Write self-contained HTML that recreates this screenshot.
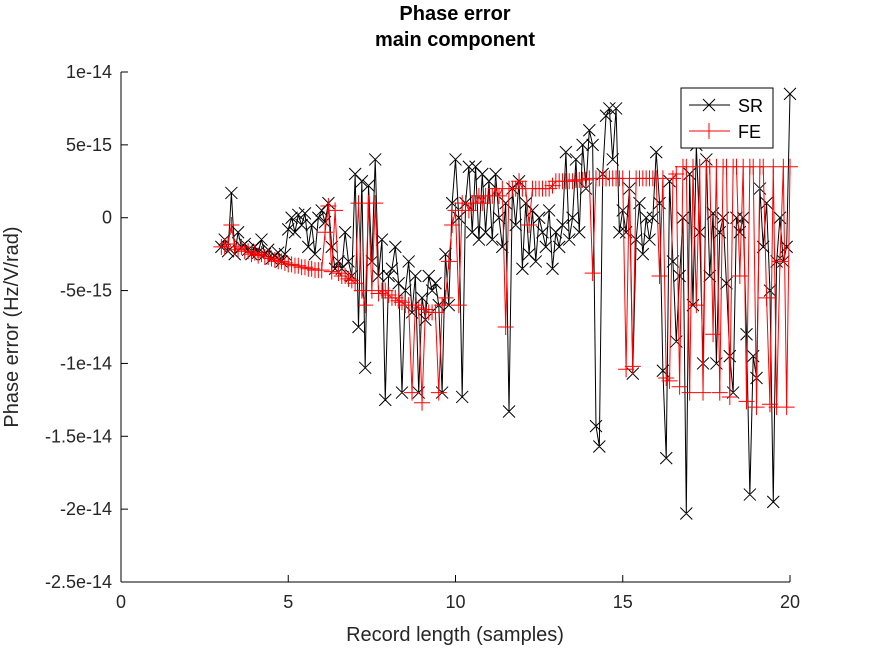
<!DOCTYPE html>
<html><head><meta charset="utf-8"><style>
body{margin:0;background:#fff}
svg{display:block;font-family:"Liberation Sans",sans-serif}
</style></head><body>
<svg id="c" width="872" height="654"></svg>
<script>
const xs=[3.0,3.1,3.2,3.3,3.4,3.5,3.6,3.7,3.8,3.9,4.0,4.1,4.2,4.3,4.4,4.5,4.6,4.7,4.8,4.9,5.0,5.1,5.2,5.3,5.4,5.5,5.6,5.7,5.8,5.9,6.0,6.1,6.2,6.3,6.4,6.5,6.6,6.7,6.8,6.9,7.0,7.1,7.2,7.3,7.4,7.5,7.6,7.7,7.8,7.9,8.0,8.1,8.2,8.3,8.4,8.5,8.6,8.7,8.8,8.9,9.0,9.1,9.2,9.3,9.4,9.5,9.6,9.7,9.8,9.9,10.0,10.1,10.2,10.3,10.4,10.5,10.6,10.7,10.8,10.9,11.0,11.1,11.2,11.3,11.4,11.5,11.6,11.7,11.8,11.9,12.0,12.1,12.2,12.3,12.4,12.5,12.6,12.7,12.8,12.9,13.0,13.1,13.2,13.3,13.4,13.5,13.6,13.7,13.8,13.9,14.0,14.1,14.2,14.3,14.4,14.5,14.6,14.7,14.8,14.9,15.0,15.1,15.2,15.3,15.4,15.5,15.6,15.7,15.8,15.9,16.0,16.1,16.2,16.3,16.4,16.5,16.6,16.7,16.8,16.9,17.0,17.1,17.2,17.3,17.4,17.5,17.6,17.7,17.8,17.9,18.0,18.1,18.2,18.3,18.4,18.5,18.6,18.7,18.8,18.9,19.0,19.1,19.2,19.3,19.4,19.5,19.6,19.7,19.8,19.9,20.0];
// values in units of 1e-15
const srValues=[-2,-1.5,-2.3,1.7,-2.5,-1,-2,-1.8,-2.2,-2.5,-2,-2.4,-1.5,-2.5,-2.2,-2.8,-2.6,-2.4,-3,-2.5,
-0.8,0,-1,0.2,-0.5,0.3,-2,-0.5,-2.5,0,0.5,-0.3,1,-2,-3.5,-3,-3.5,-1,-3,-4,
3,-7.5,2.5,-10.3,2.2,-3,4,-4,-1.5,-12.5,-4,-3.5,-2,-4.5,-12,-5,-3,-6.5,-4,-12,
-5.5,-7,-4,-5,-4.5,-6,-12,-2.5,-6,1,4,0,-12.3,1,3.5,-1,3.5,-1.5,3,-1,
2.5,-1.5,3,0,-2,1,-13.3,2,-0.5,2.5,-3.5,1,-2.5,0.5,-3,0,-1,-2,0.5,-3.5,
-1,-2,-0.5,4.5,-1.5,0,4,-1,5,2,6,5,-14.3,-15.7,3,7,7.5,4,7.5,-1,
0.5,-1,2,-10.7,-1.5,1,-2.5,0,-1.5,0,4.5,1,-10.5,-16.5,2.5,-3,-8.5,-4,0,-20.3,
3,-6,5,-1,-10,4,-4,0.3,-10,-1,0,-4.5,-9.5,-12,0,-1,0,-8,-19,-9.5,
-11,2,-2,1,-5,-19.5,-3,0,-3,-2,8.5];
const feValues=[-2,-2,-1.8,-0.5,-2,-2.2,-2,-2.3,-2.3,-2.5,-2.4,-2.6,-2.5,-2.7,-2.7,-2.8,-2.9,-3,-3,-3.1,
-3.2,-3.2,-3.3,-3.3,-3.4,-3.4,-3.5,-3.5,-3.6,-3.6,-3.6,-1,0.8,-3.7,0.5,-3.8,-4,-4,-4.2,-4.3,
-4.5,1,-5,-6,1,-5,1,-5.2,-5,-5,-5.3,-5.5,-5.5,-5.7,-5.8,-6,-6,-12,-6,-6.2,
-12.7,-6.3,-6.5,-6.5,-6.5,-12,-6,-5.5,-3,-0.5,0.5,-6,1,1,0.5,1,1,1.5,1,1.5,
1.5,1.5,2,1.5,2,-7.5,2,2,2,2.5,2,2,-0.5,2,2,2,2,2,2,2.2,
2.5,2.5,2.5,2.5,2.5,2.5,2.6,2.6,2.6,2.6,2.7,-3.8,2.7,2.7,2.7,2.7,2.7,2.7,2.7,2.7,
2.7,-10.4,2.7,-10.2,2.7,2.7,2.7,2.7,2.7,2.7,2.7,-4,2.7,-11,-11.2,2.7,3,-11.6,3.5,3.5,
-12,3.5,-6,3.5,-12,3.5,3.5,-8,3.5,-12,3.5,3.5,-12.3,3.5,3.5,-4,3.5,-12.6,3.5,3.5,
-13,3.5,3.5,-5.5,-12.8,3.5,-13,-3,3.5,-13,3.5];
const xTicks=[0,5,10,15,20];
const yTicks=[10,5,0,-5,-10,-15,-20,-25];
const yTickLabels=["1e-14","5e-15","0","-5e-15","-1e-14","-1.5e-14","-2e-14","-2.5e-14"];

const L=121,R=790,T=72,B=582;
const X=v=>L+(v-0)/(20-0)*(R-L);
const Y=v=>T+(10-v)/(10-(-25))*(B-T);
const svg=document.getElementById('c');
const NS='http://www.w3.org/2000/svg';
function mk(t,a,p){const e=document.createElementNS(NS,t);for(const k in a)e.setAttribute(k,a[k]);(p||svg).appendChild(e);return e;}

let t=mk('text',{x:455,y:20,'text-anchor':'middle','font-size':20,'font-weight':'bold',fill:'#000'});t.textContent='Phase error';


t=mk('text',{x:455,y:46,'text-anchor':'middle','font-size':20,'font-weight':'bold',fill:'#000'});t.textContent='main component';



const ax=mk('g',{});


mk('line',{x1:L,y1:T,x2:L,y2:B,stroke:'#000'},ax);
mk('line',{x1:L,y1:B,x2:R,y2:B,stroke:'#000'},ax);
xTicks.forEach(v=>{
  mk('line',{x1:X(v),y1:B,x2:X(v),y2:B-7,stroke:'#000'},ax);
  const e=mk('text',{x:X(v),y:B+26,'text-anchor':'middle','font-size':18,fill:'#262626'},ax);e.textContent=v;
  
  
});
yTicks.forEach((v,i)=>{
  mk('line',{x1:L,y1:Y(v),x2:L+7,y2:Y(v),stroke:'#000'},ax);
  const e=mk('text',{x:L-9,y:Y(v)+6,'text-anchor':'end','font-size':18,fill:'#262626'},ax);e.textContent=yTickLabels[i];
  
  
});
t=mk('text',{x:455,y:641,'text-anchor':'middle','font-size':20,fill:'#262626'});t.textContent='Record length (samples)';


t=mk('text',{x:0,y:0,'text-anchor':'middle','font-size':20,fill:'#262626',transform:'translate(18,327) rotate(-90)'});t.textContent='Phase error (Hz/V/rad)';



function series(vals,color,marker,name){
  const g=mk('g',{});
  
  
  mk('polyline',{points:xs.map((x,i)=>X(x)+','+Y(vals[i])).join(' '),fill:'none',stroke:color,'stroke-width':1},g);
  let d='';
  xs.forEach((x,i)=>{const px=X(x),py=Y(vals[i]);
    if(marker==='x')d+=`M${px-6},${py-6}L${px+6},${py+6}M${px-6},${py+6}L${px+6},${py-6}`;
    else d+=`M${px-8},${py}L${px+8},${py}M${px},${py-8}L${px},${py+8}`;});
  mk('path',{d:d,stroke:color,'stroke-width':1,fill:'none'},g);
}
series(srValues,'#000','x','series-sr');
series(feValues,'#f00','+','series-fe');

const lg=mk('g',{});


mk('rect',{x:681,y:88,width:92,height:60,fill:'#fff',stroke:'#000'},lg);
mk('line',{x1:689,y1:105,x2:730,y2:105,stroke:'#000'},lg);
mk('path',{d:'M703,99L715,111M703,111L715,99',stroke:'#000'},lg);
t=mk('text',{x:738,y:112,'font-size':18,fill:'#000'},lg);t.textContent='SR';


mk('line',{x1:689,y1:131,x2:730,y2:131,stroke:'#f00'},lg);
mk('path',{d:'M701,131L717,131M709,123L709,139',stroke:'#f00'},lg);
t=mk('text',{x:738,y:138,'font-size':18,fill:'#000'},lg);t.textContent='FE';


</script>
</body></html>
